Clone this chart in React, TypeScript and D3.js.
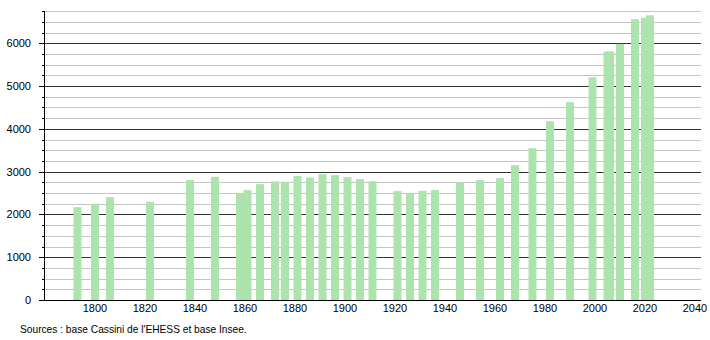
import React, { useEffect, useRef } from "react";
import * as d3 from "d3";

const years = [1793, 1800, 1806, 1822, 1838, 1848, 1858, 1861, 1866, 1872, 1876, 1881, 1886, 1891, 1896, 1901, 1906, 1911, 1921, 1926, 1931, 1936, 1946, 1954, 1962, 1968, 1975, 1982, 1990, 1999, 2005, 2006, 2010, 2016, 2020, 2022];
const population = [2170, 2250, 2405, 2296, 2802, 2880, 2498, 2568, 2708, 2771, 2763, 2903, 2864, 2942, 2918, 2872, 2825, 2778, 2545, 2490, 2552, 2568, 2747, 2802, 2848, 3152, 3549, 4179, 4623, 5207, 5806, 5806, 5985, 6561, 6600, 6654];
const xTicks = [1800, 1820, 1840, 1860, 1880, 1900, 1920, 1940, 1960, 1980, 2000, 2020, 2040];
const yMajorTicks = [0, 1000, 2000, 3000, 4000, 5000, 6000];
const sourceText = "Sources : base Cassini de l'EHESS et base Insee.";

const W = 710;
const H = 340;
const LEFT = 44;
const RIGHT = 701;
const BOTTOM = 300;
const FONT = "'Liberation Sans', Arial, sans-serif";

export default function App() {
  const ref = useRef<SVGSVGElement>(null);

  useEffect(() => {
    const svg = d3.select(ref.current);
    svg.selectAll("*").remove();

    const x = d3.scaleLinear().domain([1780, 2042.4]).range([45, RIGHT]);
    const y = d3.scaleLinear().domain([0, 6000]).range([BOTTOM, 43.3]);
    const yMax = 6750;

    svg.append("rect").attr("width", W).attr("height", H).attr("fill", "#fff");

    // grid lines
    const minor = d3.range(250, yMax + 1, 250).filter((v) => v % 1000 !== 0);
    svg
      .append("g")
      .selectAll("line")
      .data(minor)
      .join("line")
      .attr("x1", LEFT)
      .attr("x2", RIGHT)
      .attr("y1", (d) => Math.round(y(d)) + 0.5)
      .attr("y2", (d) => Math.round(y(d)) + 0.5)
      .attr("stroke", "#c4c4c4")
      .attr("stroke-width", 1);
    svg
      .append("g")
      .selectAll("line")
      .data(yMajorTicks.filter((v) => v > 0))
      .join("line")
      .attr("x1", LEFT)
      .attr("x2", RIGHT)
      .attr("y1", (d) => Math.round(y(d)) + 0.5)
      .attr("y2", (d) => Math.round(y(d)) + 0.5)
      .attr("stroke", "#333")
      .attr("stroke-width", 1);

    // bars
    const bw = 8;
    svg
      .append("g")
      .selectAll("rect")
      .data(years.map((yr, i) => ({ yr, v: population[i] })))
      .join("rect")
      .attr("x", (d) => x(d.yr) - bw / 2)
      .attr("width", bw)
      .attr("y", (d) => y(d.v))
      .attr("height", (d) => BOTTOM - y(d.v))
      .attr("fill", "#ade3ad");

    // y axis
    svg
      .append("line")
      .attr("x1", LEFT + 0.5)
      .attr("x2", LEFT + 0.5)
      .attr("y1", Math.round(y(yMax)))
      .attr("y2", BOTTOM)
      .attr("stroke", "#000");
    svg
      .append("g")
      .selectAll("line")
      .data(d3.range(0, yMax + 1, 250))
      .join("line")
      .attr("x1", (d) => (d % 1000 === 0 ? LEFT - 5 : LEFT - 2))
      .attr("x2", LEFT)
      .attr("y1", (d) => Math.round(y(d)) + 0.5)
      .attr("y2", (d) => Math.round(y(d)) + 0.5)
      .attr("stroke", "#000");
    svg
      .append("g")
      .selectAll("text")
      .data(yMajorTicks)
      .join("text")
      .attr("x", 31)
      .attr("y", (d) => y(d) + 4)
      .attr("text-anchor", "end")
      .attr("font-family", FONT)
      .attr("font-size", 11)
      .attr("fill", "#000")
      .text((d) => String(d));

    // x axis
    svg
      .append("line")
      .attr("x1", LEFT)
      .attr("x2", RIGHT)
      .attr("y1", BOTTOM + 0.5)
      .attr("y2", BOTTOM + 0.5)
      .attr("stroke", "#000");
    svg
      .append("g")
      .selectAll("text")
      .data(xTicks)
      .join("text")
      .attr("x", (d) => x(d))
      .attr("y", 312)
      .attr("text-anchor", "middle")
      .attr("font-family", FONT)
      .attr("font-size", 11)
      .attr("fill", "#000")
      .text((d) => String(d));

    svg
      .append("text")
      .attr("x", 20)
      .attr("y", 333)
      .attr("font-family", FONT)
      .attr("font-size", 10.2)
      .attr("fill", "#000")
      .text(sourceText);
  }, []);

  return (
    <svg
      ref={ref}
      width={W}
      height={H}
      style={{ position: "absolute", left: 0, top: 0, display: "block" }}
    />
  );
}
